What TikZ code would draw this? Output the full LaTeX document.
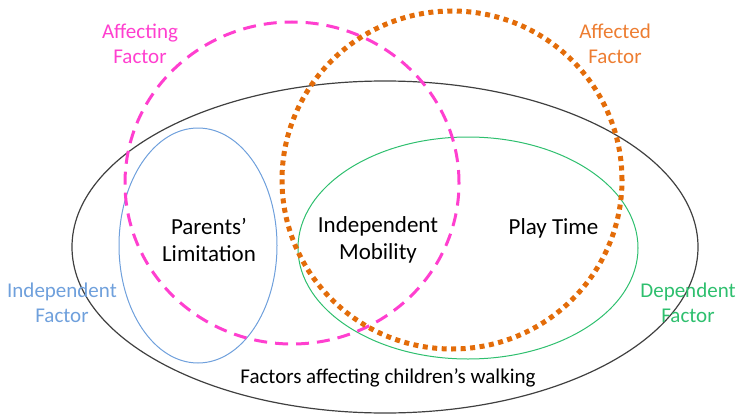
\documentclass[tikz,border=0pt]{standalone}
\usepackage{fontspec}
\setmainfont{Carlito}
\usetikzlibrary{positioning}

\definecolor{affectingpink}{HTML}{FF3FCF}
\definecolor{affectedorange}{HTML}{E36C09}
\definecolor{affectedtext}{HTML}{ED7D31}
\definecolor{indepblue}{HTML}{6FA0DC}
\definecolor{depgreen}{HTML}{2EBF6E}

\tikzset{
  factorlabel/.style={align=center, inner sep=0pt, font=\fontsize{21}{25}\selectfont},
  setlabel/.style={align=center, inner sep=0pt, font=\fontsize{23}{27}\selectfont},
}

\begin{document}
\begin{tikzpicture}[x=1pt,y=1pt]
  \useasboundingbox (0,0) rectangle (741,416);
  % outer set and the two solid subsets
  \draw[black!75, line width=1.2pt] (385,169) ellipse [x radius=313, y radius=166];
  \draw[indepblue, line width=1pt] (198,170.5) ellipse [x radius=79, y radius=117.5];
  \draw[depgreen, line width=1pt] (468,168) ellipse [x radius=170, y radius=111];
  % affecting / affected sets
  \draw[affectingpink, line width=3pt, dash pattern=on 13pt off 8pt]
    (292,233) ellipse [x radius=167, y radius=161];
  \draw[affectedorange, line width=5pt, dash pattern=on 5pt off 4.5pt]
    (452,236) ellipse [x radius=170, y radius=169];

  % legend texts
  \node[factorlabel, text=affectingpink] (affecting) at (140,372) {Affecting\\Factor};
  \node[factorlabel, text=affectedtext] (affected) at (615,372) {Affected\\Factor};
  \node[factorlabel, text=indepblue] (independent) at (62,113) {Independent\\Factor};
  \node[factorlabel, text=depgreen] (dependent) at (688,113) {Dependent\\Factor};

  % set contents
  \node[setlabel] (parents) at (209,176) {Parents’\\Limitation};
  \node[setlabel] (mobility) at (378,176) {Independent\\Mobility};
  \node[setlabel] (playtime) at (553.5,188) {Play Time};
  \node[factorlabel] (walking) at (388,38) {Factors affecting children’s walking};
\end{tikzpicture}
\end{document}
